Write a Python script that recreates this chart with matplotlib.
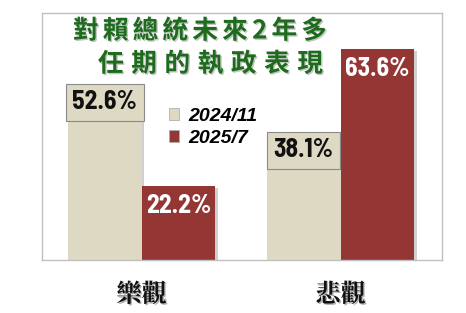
import matplotlib
matplotlib.use("Agg")
import matplotlib.pyplot as plt
import matplotlib.patheffects as pe
import numpy as np

categories = ["樂觀", "悲觀"]
series_names = ["2024/11", "2025/7"]
values_2024 = [52.6, 38.1]
values_2025 = [22.2, 63.6]
title_lines = ["對賴總統未來2年多", "任期的執政表現"]

plt.rcParams['font.family'] = ['Noto Sans CJK TC', 'DejaVu Sans']

W, H = 466, 313
fig = plt.figure(figsize=(W/100, H/100), dpi=100)
ax = fig.add_axes([42/W, 1-260/H, 400/W, 247/H])

x = np.arange(len(categories))
w = 0.37
c1 = "#DDD9C3"
c2 = "#943634"
shadow = [pe.SimplePatchShadow(offset=(2, -1), alpha=0.25, shadow_rgbFace="#444444"), pe.Normal()]
b1 = ax.bar(x - w/2, values_2024, w, color=c1, label=series_names[0], zorder=2)
b2 = ax.bar(x + w/2, values_2025, w, color=c2, label=series_names[1], zorder=2)
for b in list(b1) + list(b2):
    b.set_path_effects(shadow)

ax.set_xlim(-0.5, 1.51)
ax.set_ylim(0, 74.6)
ax.set_yticks([])
ax.set_xticks([])
for s in ax.spines.values():
    s.set_color("#c0c0c0")
    s.set_linewidth(1.0)

narrow = ['Arial Narrow', 'Liberation Sans Narrow', 'Barlow Semi Condensed', 'Asap Condensed',
          'Liberation Sans', 'DejaVu Sans']
lab_font = dict(family=narrow, fontweight='bold', fontsize=18.5)
for xi, v in zip(x - w/2, values_2024):
    ax.text(xi, v - 5.0, f"{v}%", ha='center', va='center', color='#111111',
            bbox=dict(boxstyle='square,pad=0.25', fc=c1, ec='#8a8a8a', lw=0.8), zorder=4, **lab_font)
for xi, v in zip(x + w/2, values_2025):
    ax.text(xi, v - 5.8, f"{v}%", ha='center', va='center', color='white', zorder=4, **lab_font)

# title, characters spread as in the reference
fs = 18.5
em = fs * 100 / 72
spans = [(73, 327, 31), (98, 323, 64)]
for line, (x0, x1, yc) in zip(title_lines, spans):
    widths = [0.6 * em if ch.isdigit() else em for ch in line]
    gap = (x1 - x0 - sum(widths)) / (len(line) - 1)
    cur = x0
    for ch, cw in zip(line, widths):
        fig.text((cur + cw / 2) / W, 1 - yc / H, ch, ha='center', va='center', color='#1E6B1E',
                 fontsize=fs, fontweight='heavy',
                 path_effects=[pe.withSimplePatchShadow(offset=(1, -1), alpha=0.25)])
        cur += cw + gap

for xi, c in zip(x, categories):
    ax.text(xi, -35/247, c, transform=ax.get_xaxis_transform(), ha='center', va='center',
            fontsize=18, fontweight='bold', color='#111111',
            family=['Noto Serif CJK TC', 'Noto Sans CJK TC', 'DejaVu Sans'],
            path_effects=[pe.withSimplePatchShadow(offset=(1, -1), alpha=0.3)])

leg = ax.legend(loc='upper left', bbox_to_anchor=((161-42)/400, 1-(100-13)/247), frameon=False,
                prop=dict(family=['Liberation Sans', 'DejaVu Sans'], weight='bold', style='italic', size=14),
                handlelength=0.55, handleheight=0.55, handletextpad=0.45, labelspacing=0.25, borderaxespad=0)
for h in leg.legend_handles:
    h.set_path_effects([])
    h.set_edgecolor('#b0b0b0')
    h.set_linewidth(0.6)

fig.savefig("out.png", dpi=100)
